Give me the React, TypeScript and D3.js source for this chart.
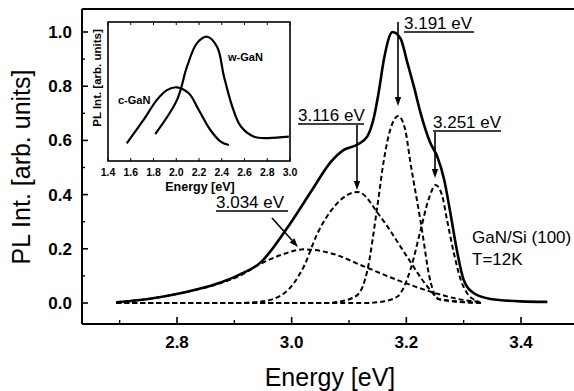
import React from 'react';
import * as d3 from 'd3';

// energy ticks / intensity ticks
const xMajor = [2.8, 3.0, 3.2, 3.4];
const xMinor = [2.7, 2.9, 3.1, 3.3];
const yMajor = [0, 0.2, 0.4, 0.6, 0.8, 1.0];
const yMinor = [0.1, 0.3, 0.5, 0.7, 0.9];

// measured PL spectrum [energy eV, intensity]
const measured: [number, number][] = [
  [2.694, 0.003], [2.75, 0.015], [2.81, 0.038], [2.868, 0.07], [2.909, 0.105],
  [2.946, 0.15], [2.99, 0.27], [3.035, 0.415], [3.068, 0.52], [3.091, 0.565],
  [3.115, 0.585], [3.132, 0.615], [3.144, 0.69], [3.152, 0.78], [3.161, 0.9],
  [3.176, 1.0], [3.19, 0.975], [3.202, 0.885], [3.213, 0.8], [3.225, 0.7],
  [3.242, 0.59], [3.254, 0.54], [3.266, 0.455], [3.277, 0.33], [3.289, 0.185],
  [3.3, 0.085], [3.318, 0.036], [3.347, 0.015], [3.4, 0.006], [3.446, 0.004],
];

// fitted gaussian components
const peak3034: [number, number][] = [
  [2.694, 0.003], [2.75, 0.015], [2.81, 0.038], [2.868, 0.068], [2.909, 0.1],
  [2.946, 0.145], [2.981, 0.177], [3.021, 0.198], [3.068, 0.184], [3.126, 0.135],
  [3.184, 0.085], [3.242, 0.042], [3.3, 0.011], [3.33, 0.004],
];
const peak3116: [number, number][] = [
  [2.694, 0], [2.9, 0], [2.946, 0.005], [2.987, 0.036], [3.021, 0.134],
  [3.045, 0.257], [3.074, 0.355], [3.115, 0.41], [3.155, 0.318], [3.2, 0.175],
  [3.237, 0.06], [3.26, 0.012], [3.33, 0],
];
const peak3191: [number, number][] = [
  [2.694, 0], [3.06, 0], [3.09, 0.008], [3.115, 0.03], [3.132, 0.12],
  [3.149, 0.35], [3.161, 0.53], [3.172, 0.64], [3.186, 0.69], [3.198, 0.64],
  [3.207, 0.52], [3.225, 0.3], [3.242, 0.08], [3.255, 0.015], [3.33, 0],
];
const peak3251: [number, number][] = [
  [2.694, 0], [3.13, 0], [3.155, 0.004], [3.184, 0.023], [3.207, 0.122],
  [3.225, 0.27], [3.24, 0.39], [3.251, 0.435], [3.262, 0.4], [3.271, 0.306],
  [3.283, 0.183], [3.295, 0.085], [3.306, 0.036], [3.32, 0.01], [3.33, 0],
];

// inset spectra
const insetTicks = [1.4, 1.6, 1.8, 2.0, 2.2, 2.4, 2.6, 2.8, 3.0];
const wGaN: [number, number][] = [
  [1.815, 0.194], [2.007, 0.44], [2.095, 0.68], [2.184, 0.85], [2.272, 0.894],
  [2.36, 0.82], [2.419, 0.61], [2.493, 0.39], [2.567, 0.25], [2.684, 0.175],
  [2.8, 0.165], [2.99, 0.175],
];
const cGaN: [number, number][] = [
  [1.565, 0.127], [1.712, 0.295], [1.83, 0.44], [1.918, 0.51], [2.007, 0.53],
  [2.11, 0.487], [2.198, 0.367], [2.3, 0.223], [2.39, 0.14], [2.463, 0.115],
];

const font = '"Liberation Sans", Arial, Helvetica, sans-serif';

const Arrow = ({ x1, y1, x2, y2 }: { x1: number; y1: number; x2: number; y2: number }) => {
  const a = Math.atan2(y2 - y1, x2 - x1);
  const len = 9, w = 3.2;
  const bx = x2 - len * Math.cos(a), by = y2 - len * Math.sin(a);
  const p1 = [bx + w * Math.sin(a), by - w * Math.cos(a)];
  const p2 = [bx - w * Math.sin(a), by + w * Math.cos(a)];
  return (
    <g>
      <line x1={x1} y1={y1} x2={bx} y2={by} stroke="#000" strokeWidth={1.6} />
      <path d={`M${x2},${y2}L${p1[0]},${p1[1]}L${p2[0]},${p2[1]}Z`} fill="#000" />
    </g>
  );
};

const App = () => {
  const x = d3.scaleLinear().domain([2.8, 3.4]).range([177, 521]);
  const y = d3.scaleLinear().domain([0, 1]).range([303, 32]);
  const left = 82, top = 9, bottom = 324, right = 580;

  const line = d3.line<[number, number]>()
    .x((d) => x(d[0]))
    .y((d) => y(d[1]))
    .curve(d3.curveMonotoneX);

  const xi = d3.scaleLinear().domain([1.4, 3.0]).range([108, 290]);
  const yi = d3.scaleLinear().domain([0, 1]).range([161, 22]);
  const lineI = d3.line<[number, number]>()
    .x((d) => xi(d[0]))
    .y((d) => yi(d[1]))
    .curve(d3.curveCatmullRom.alpha(0.5));

  const dash = '5,3';
  const components = [peak3034, peak3116, peak3191, peak3251];

  // label positions for the fitted peaks
  const ann = [
    { text: '3.034 eV', tx: 216, ty: 208, w: 72, arrow: { x1: 272, y1: 218, x2: 298, y2: 247 } },
    { text: '3.116 eV', tx: 298, ty: 121, w: 66, arrow: { x1: 357, y1: 125, x2: 357, y2: 190 } },
    { text: '3.191 eV', tx: 404, ty: 29, w: 70, arrow: { x1: 398, y1: 22, x2: 398, y2: 106 } },
    { text: '3.251 eV', tx: 433, ty: 128, w: 68, arrow: { x1: 435, y1: 132, x2: 435, y2: 178 } },
  ];

  return (
    <svg width={574} height={391} style={{ position: 'absolute', left: 0, top: 0, background: '#fff' }}
      fontFamily={font}>
      <rect x={0} y={0} width={574} height={391} fill="#fff" />

      {/* frame */}
      <line x1={left} x2={right} y1={top} y2={top} stroke="#000" strokeWidth={2} />
      <line x1={left} x2={right} y1={bottom} y2={bottom} stroke="#000" strokeWidth={2} />
      <line x1={left} x2={left} y1={top} y2={bottom} stroke="#000" strokeWidth={2} />

      {/* x ticks */}
      {xMajor.map((t) => (
        <g key={'xm' + t}>
          <line x1={x(t)} x2={x(t)} y1={bottom} y2={bottom - 7} stroke="#000" strokeWidth={1.6} />
          <text x={x(t)} y={348} textAnchor="middle" fontSize={17} fontWeight="bold">{t.toFixed(1)}</text>
        </g>
      ))}
      {xMinor.map((t) => (
        <line key={'xn' + t} x1={x(t)} x2={x(t)} y1={bottom} y2={bottom - 4} stroke="#000" strokeWidth={1.4} />
      ))}

      {/* y ticks */}
      {yMajor.map((t) => (
        <g key={'ym' + t}>
          <line x1={left} x2={left + 6} y1={y(t)} y2={y(t)} stroke="#000" strokeWidth={1.6} />
          <text x={72} y={y(t) + 6} textAnchor="end" fontSize={17} fontWeight="bold">{t.toFixed(1)}</text>
        </g>
      ))}
      {yMinor.map((t) => (
        <line key={'yn' + t} x1={left} x2={left + 3} y1={y(t)} y2={y(t)} stroke="#000" strokeWidth={1.4} />
      ))}

      {/* axis titles */}
      <text x={330} y={386} textAnchor="middle" fontSize={25}>Energy [eV]</text>
      <text transform="translate(30,167) rotate(-90)" textAnchor="middle" fontSize={25}>PL Int. [arb. units]</text>

      {/* components */}
      {components.map((c, i) => (
        <path key={'c' + i} d={line(c) || ''} fill="none" stroke="#000" strokeWidth={2} strokeDasharray={dash} />
      ))}
      <path d={line(measured) || ''} fill="none" stroke="#000" strokeWidth={2.6} strokeLinejoin="round" />

      {/* peak labels */}
      {ann.map((a) => (
        <g key={a.text}>
          <text x={a.tx} y={a.ty} fontSize={17}>{a.text}</text>
          <line x1={a.tx} x2={a.tx + a.w} y1={a.ty + 3} y2={a.ty + 3} stroke="#000" strokeWidth={1.3} />
          <Arrow {...a.arrow} />
        </g>
      ))}

      <text x={472} y={243} fontSize={17}>GaN/Si (100)</text>
      <text x={472} y={265} fontSize={17}>T=12K</text>

      {/* inset */}
      <rect x={108} y={22} width={182} height={139} fill="#fff" stroke="#000" strokeWidth={1.6} />
      {insetTicks.map((t) => (
        <g key={'it' + t}>
          <line x1={xi(t)} x2={xi(t)} y1={161} y2={158} stroke="#000" strokeWidth={1} />
          <line x1={xi(t)} x2={xi(t)} y1={22} y2={25} stroke="#000" strokeWidth={1} />
          <text x={xi(t)} y={176} textAnchor="middle" fontSize={10.5} fontWeight="bold">{t.toFixed(1)}</text>
        </g>
      ))}
      <text x={200} y={191} textAnchor="middle" fontSize={12.5} fontWeight="bold">Energy [eV]</text>
      <text transform="translate(101,78) rotate(-90)" textAnchor="middle" fontSize={11.5} fontWeight="bold">PL Int. [arb. units]</text>
      <path d={lineI(wGaN) || ''} fill="none" stroke="#000" strokeWidth={2.2} />
      <path d={lineI(cGaN) || ''} fill="none" stroke="#000" strokeWidth={2.2} />
      <text x={228} y={61} fontSize={11} fontWeight="bold">w-GaN</text>
      <text x={118} y={104} fontSize={11} fontWeight="bold">c-GaN</text>
    </svg>
  );
};

export default App;
